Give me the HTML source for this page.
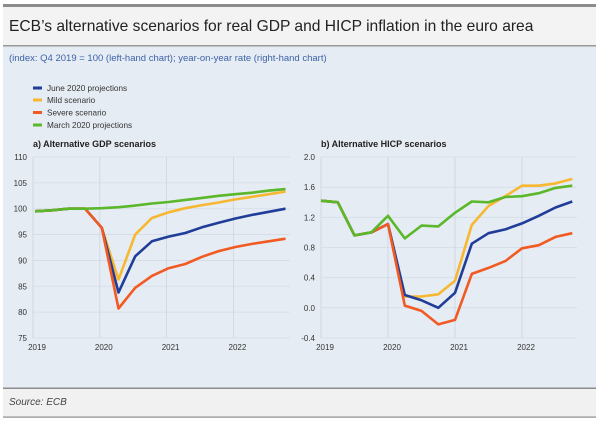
<!DOCTYPE html>
<html><head><meta charset="utf-8"><style>
body{margin:0;background:#fff;width:600px;height:422px;overflow:hidden;font-family:"Liberation Sans",sans-serif}
svg{display:block}
</style></head><body>
<svg width="600" height="422" xmlns="http://www.w3.org/2000/svg">
<rect x="3" y="4" width="593" height="3" fill="#8c8c8c"/>
<rect x="3" y="7" width="593" height="39" fill="#f3f3f3"/>
<text x="9" y="31" font-size="15.6" fill="#222">ECB’s alternative scenarios for real GDP and HICP inflation in the euro area</text>
<rect x="3" y="45" width="593" height="1.5" fill="#999"/>
<rect x="3" y="46.5" width="593" height="341" fill="#e6ecf3"/>
<text x="9" y="61" font-size="9.5" fill="#3d62a8">(index: Q4 2019 = 100 (left-hand chart); year-on-year rate (right-hand chart)</text>
<g font-size="8.2" fill="#333">
<g><rect x="33" y="86.5" width="9" height="3" fill="#1f3d99"/><text x="47" y="91">June 2020 projections</text></g>
<g><rect x="33" y="98.5" width="9" height="3" fill="#f7b731"/><text x="47" y="103">Mild scenario</text></g>
<g><rect x="33" y="111" width="9" height="3" fill="#f15a22"/><text x="47" y="115.5">Severe scenario</text></g>
<g><rect x="33" y="123.5" width="9" height="3" fill="#5ab82a"/><text x="47" y="128">March 2020 projections</text></g>
</g>
<text x="33" y="147" font-size="9" font-weight="bold" fill="#222">a) Alternative GDP scenarios</text>
<text x="321" y="147" font-size="9" font-weight="bold" fill="#222">b) Alternative HICP scenarios</text>
<g id="left"></g>
<g id="right"></g>
<rect x="3" y="387.5" width="593" height="1.5" fill="#8c8c8c"/>
<rect x="3" y="389" width="593" height="28" fill="#f1f1f1"/>
<text x="9" y="405" font-size="10" font-style="italic" fill="#444">Source: ECB</text>
<rect x="3" y="416.5" width="593" height="1.2" fill="#8c8c8c"/>
</svg>
<script>
const years = [2019, 2020, 2021, 2022];
const seriesNames = ["mild", "june", "severe", "march"];
const seriesColors = ["#f7b731", "#1f3d99", "#f15a22", "#5ab82a"];
const gdpTicks = [75, 80, 85, 90, 95, 100, 105, 110];
const gdpMarch = [99.5,99.7,100,100,100.1,100.3,100.6,101,101.3,101.7,102.1,102.5,102.8,103.1,103.5,103.8];
const gdpSevere = [99.5,99.7,100,100,96.3,80.7,84.7,87,88.5,89.3,90.7,91.8,92.6,93.2,93.7,94.2];
const gdpJune = [99.5,99.7,100,100,96.3,83.8,90.8,93.7,94.6,95.3,96.4,97.3,98.1,98.8,99.4,100];
const gdpMild = [99.5,99.7,100,100,96.3,86.3,95,98.2,99.3,100.1,100.7,101.2,101.8,102.3,102.8,103.3];
const hicpTicks = [-0.4, 0.0, 0.4, 0.8, 1.2, 1.6, 2.0];
const hicpMarch = [1.42,1.4,0.96,1.0,1.22,0.92,1.09,1.08,1.26,1.41,1.4,1.47,1.48,1.52,1.59,1.62];
const hicpSevere = [1.42,1.4,0.96,1.0,1.11,0.03,-0.04,-0.22,-0.16,0.45,0.53,0.62,0.79,0.83,0.94,0.99];
const hicpJune = [1.42,1.4,0.96,1.0,1.11,0.17,0.1,0.0,0.2,0.85,0.99,1.04,1.12,1.22,1.33,1.41];
const hicpMild = [1.42,1.4,0.96,1.0,1.11,0.15,0.15,0.18,0.36,1.1,1.35,1.48,1.62,1.62,1.65,1.71];

const NS = "http://www.w3.org/2000/svg";
function mk(tag, attrs, parent){const e=document.createElementNS(NS,tag);for(const k in attrs)e.setAttribute(k,attrs[k]);parent.appendChild(e);return e;}

function drawChart(g, x0, yearW, endX, ticks, fmt, series, offset){
  const top=157, bot=338, lo=ticks[0], hi=ticks[ticks.length-1];
  const yS=v=>bot-(v-lo)/(hi-lo)*(bot-top);
  const xS=t=>x0+(t-years[0])*yearW;
  ticks.forEach(t=>{
    const l=mk("line",{x1:x0,x2:endX,y1:yS(t),y2:yS(t),stroke:"#d3dbe6","stroke-width":0.8},g);
    
    
    const tx=mk("text",{x:x0-6,y:yS(t)+3,"font-size":8,fill:"#333","text-anchor":"end"},g);
    tx.textContent=fmt(t);
    
    
  });
  years.forEach(yr=>{
    const l=mk("line",{x1:xS(yr),x2:xS(yr),y1:top,y2:bot,stroke:"#ccd5e1","stroke-width":0.8},g);
    
    
    const tx=mk("text",{x:xS(yr)+4,y:bot+12,"font-size":8,fill:"#333","text-anchor":"middle"},g);
    tx.textContent=yr;
    
    
  });
  series.forEach((vals,si)=>{
    const pts=vals.map((v,i)=>xS(years[0]+i*0.25+offset).toFixed(1)+","+yS(v).toFixed(1)).join(" ");
    const p=mk("polyline",{points:pts,fill:"none",stroke:seriesColors[si],"stroke-width":2.6,"stroke-linejoin":"round"},g);
    
    
  });
}
drawChart(document.getElementById("left"),33,66.8,290,gdpTicks,t=>String(t),[gdpMild,gdpJune,gdpSevere,gdpMarch],0.03);
drawChart(document.getElementById("right"),321,67,577,hicpTicks,t=>t.toFixed(1),[hicpMild,hicpJune,hicpSevere,hicpMarch],0);
</script>
</body></html>
